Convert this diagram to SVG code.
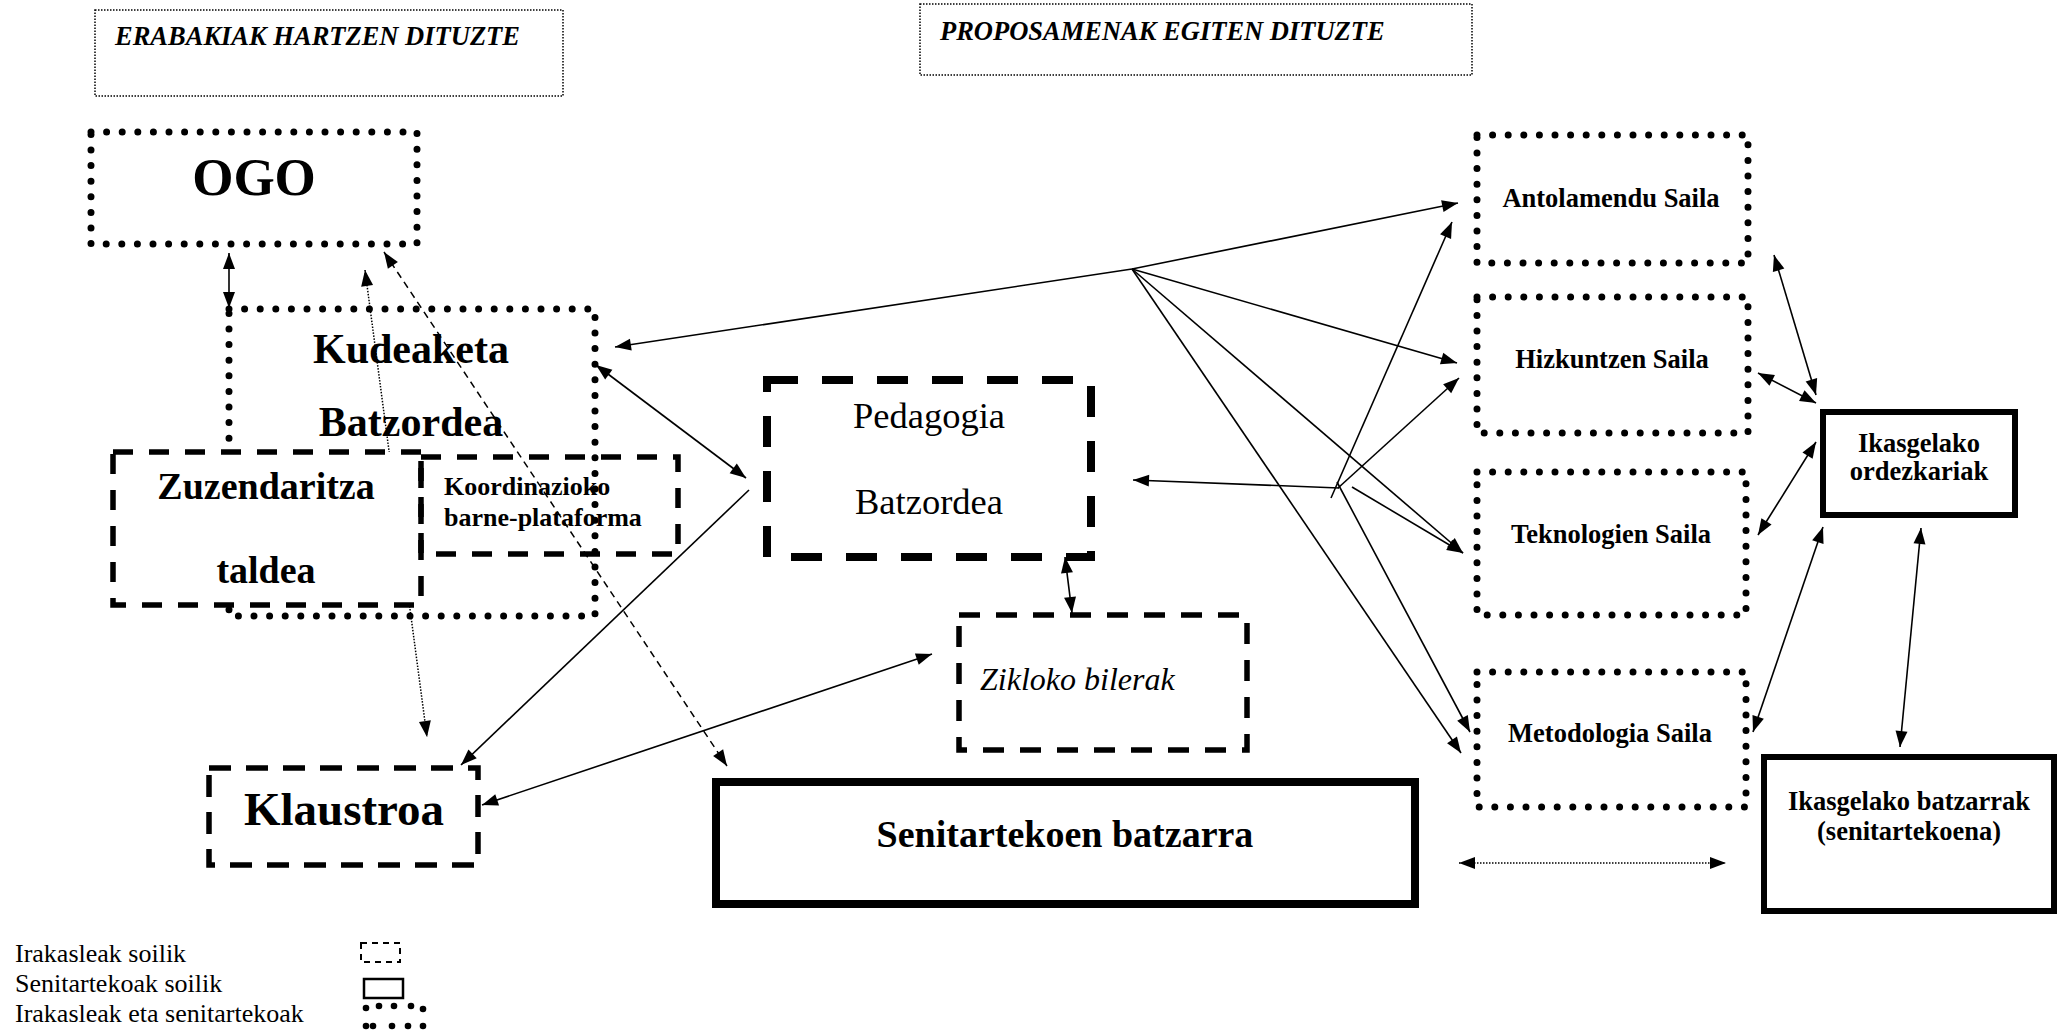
<svg xmlns="http://www.w3.org/2000/svg" width="2060" height="1033" viewBox="0 0 2060 1033">
<style>
text{font-family:"Liberation Serif","Times New Roman",serif;fill:#000}
.b{font-weight:bold}
.c{text-anchor:middle}
.hdr{fill:none;stroke:#000;stroke-width:1.5;stroke-dasharray:1.5 1.5}
.dot{fill:none;stroke:#000;stroke-width:7;stroke-linecap:round;stroke-dasharray:0 15.6}
.dash{fill:none;stroke:#000;stroke-width:5.5;stroke-dasharray:20 16}
.dashk{fill:none;stroke:#000;stroke-width:8;stroke-dasharray:31 24}
.solid{fill:none;stroke:#000}
.ln{fill:none;stroke:#000;stroke-width:1.6}
.lnd{fill:none;stroke:#000;stroke-width:1.5;stroke-dasharray:7 5}
.lnf{fill:none;stroke:#000;stroke-width:1.5;stroke-dasharray:1.5 1.5}
.a2{marker-start:url(#ah);marker-end:url(#ah)}
.a1{marker-end:url(#ah)}
</style>
<defs>
<marker id="ah" markerUnits="userSpaceOnUse" markerWidth="18" markerHeight="14" refX="16" refY="6" orient="auto-start-reverse" overflow="visible">
<path d="M0,0 L16,6 L0,12 z" fill="#000"/>
</marker>
</defs>
<rect width="2060" height="1033" fill="#fff"/>

<g id="hdr-erabakiak">
<rect class="hdr" x="95" y="10" width="468" height="86"/>
<text class="b" x="115" y="45" font-size="26.5" font-style="italic">ERABAKIAK HARTZEN DITUZTE</text>
</g>
<g id="hdr-proposamenak">
<rect class="hdr" x="920" y="4" width="552" height="71"/>
<text class="b" x="940" y="40" font-size="26.5" font-style="italic">PROPOSAMENAK EGITEN DITUZTE</text>
</g>

<g id="ogo">
<rect class="dot" x="91" y="132" width="326" height="112"/>
<text class="b c" x="254" y="195" font-size="53">OGO</text>
</g>

<g id="kudeaketa">
<rect class="dot" x="229" y="309" width="366" height="307"/>
<text class="b c" x="411" y="363" font-size="42">Kudeaketa</text>
<text class="b c" x="411" y="436" font-size="42">Batzordea</text>
</g>

<g id="pedagogia">
<rect class="dashk" x="767" y="380" width="324" height="177"/>
<text class="c" x="929" y="428" font-size="36.5">Pedagogia</text>
<text class="c" x="929" y="514" font-size="36.5">Batzordea</text>
</g>

<g id="zikloko">
<rect class="dash" x="959" y="615" width="288" height="135" stroke-width="5" style="stroke-dasharray:21 16"/>
<text x="980" y="690" font-size="32" font-style="italic">Zikloko bilerak</text>
</g>

<g id="klaustroa">
<rect class="dash" x="209" y="768" width="269" height="97" stroke-width="5" style="stroke-dasharray:22 15"/>
<text class="b c" x="344" y="825" font-size="47">Klaustroa</text>
</g>

<g id="senitartekoen">
<rect class="solid" x="716" y="782" width="699" height="122" stroke-width="8"/>
<text class="b c" x="1065" y="847" font-size="38">Senitartekoen batzarra</text>
</g>

<g id="antolamendu">
<rect class="dot" x="1477" y="135" width="271" height="128"/>
<text class="b c" x="1611" y="207" font-size="26.5">Antolamendu Saila</text>
</g>
<g id="hizkuntzen">
<rect class="dot" x="1477" y="297" width="271" height="136"/>
<text class="b c" x="1612" y="368" font-size="26.5">Hizkuntzen Saila</text>
</g>
<g id="teknologien">
<rect class="dot" x="1477" y="472" width="269" height="143"/>
<text class="b c" x="1611" y="543" font-size="26.5">Teknologien Saila</text>
</g>
<g id="metodologia">
<rect class="dot" x="1477" y="672" width="269" height="135"/>
<text class="b c" x="1610" y="742" font-size="26.5">Metodologia Saila</text>
</g>

<g id="ikasgelako-ordezkariak">
<rect class="solid" x="1823" y="412" width="192" height="103" stroke-width="6"/>
<text class="b c" x="1919" y="452" font-size="26.5">Ikasgelako</text>
<text class="b c" x="1919" y="480" font-size="26.5">ordezkariak</text>
</g>

<g id="ikasgelako-batzarrak">
<rect class="solid" x="1764" y="757" width="290" height="154" stroke-width="6"/>
<text class="b c" x="1909" y="810" font-size="26.5">Ikasgelako batzarrak</text>
<text class="b c" x="1909" y="840" font-size="26.5">(senitartekoena)</text>
</g>

<g id="connectors">
<path class="ln a2" d="M229,253 L229,308"/>
<path class="lnf a2" d="M365,270 L427,737"/>
<path class="lnd a2" d="M384,252 L727,766"/>
<path class="ln a1" d="M1132,269 L615,347" stroke-width="2"/>
<path class="ln a1" d="M1132,269 L1458,203" stroke-width="2"/>
<path class="ln a1" d="M1132,269 L1457,363" stroke-width="2"/>
<path class="ln a1" d="M1132,269 L1463,553"/>
<path class="ln a1" d="M1132,269 L1461,753"/>
<path class="ln a1" d="M1331,498 L1452,222"/>
<path class="ln a1" d="M1338,488 L1459,378"/>
<path class="ln a1" d="M1339,488 L1133,480" stroke-width="2"/>
<path class="ln a1" d="M1352,487 L1463,553"/>
<path class="ln a1" d="M1337,482 L1470,732"/>
<path class="ln a2" d="M596,365 L746,478"/>
<path class="ln a1" d="M749,490 L461,765"/>
<path class="ln a2" d="M482,805 L932,654" stroke-width="2"/>
<path class="ln a2" d="M1065,557 L1072,613"/>
<path class="ln a2" d="M1774,255 L1816,395"/>
<path class="ln a2" d="M1758,373 L1816,403" stroke-width="2"/>
<path class="ln a2" d="M1758,535 L1816,442"/>
<path class="ln a2" d="M1753,732 L1823,527"/>
<path class="ln a2" d="M1921,528 L1900,747"/>
<path class="lnf a2" d="M1459,863 L1726,863"/>
</g>

<g id="zuzendaritza">
<rect class="dash" x="113" y="452" width="308" height="153" style="fill:#fff"/>
<text class="b c" x="266" y="499" font-size="38">Zuzendaritza</text>
<text class="b c" x="266" y="583" font-size="38">taldea</text>
</g>

<g id="koordinazioko">
<rect class="dash" x="421" y="457" width="257" height="97"/>
<text class="b" x="444" y="495" font-size="26">Koordinazioko</text>
<text class="b" x="444" y="526" font-size="26">barne-plataforma</text>
</g>

<g id="legend">
<text x="15" y="962" font-size="26">Irakasleak soilik</text>
<text x="15" y="992" font-size="26">Senitartekoak soilik</text>
<text x="15" y="1022" font-size="26">Irakasleak eta senitartekoak</text>
<rect x="361" y="943" width="39" height="19" fill="none" stroke="#000" stroke-width="2" stroke-dasharray="6 5"/>
<rect x="364" y="979" width="39" height="19" fill="none" stroke="#000" stroke-width="2.5"/>
<g fill="#000">
<circle cx="366" cy="1008" r="3.3"/><circle cx="379" cy="1006" r="3.3"/><circle cx="394" cy="1006" r="3.3"/><circle cx="411" cy="1006" r="3.3"/><circle cx="423" cy="1009" r="3.3"/>
<circle cx="366" cy="1026" r="3.3"/><circle cx="373" cy="1026" r="3.3"/><circle cx="392" cy="1026" r="3.3"/><circle cx="408" cy="1026" r="3.3"/><circle cx="423" cy="1026" r="3.3"/>
</g>
</g>
</svg>
